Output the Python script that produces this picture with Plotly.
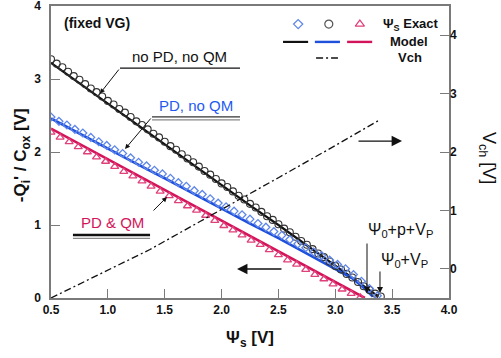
import plotly.graph_objects as go

# ---------------- data ----------------
# Psi_s exact, no PD no QM (circles)
psi_circ = [0.50, 0.55, 0.60, 0.65, 0.70, 0.75, 0.80, 0.85, 0.90, 0.95, 1.00, 1.05, 1.10, 1.15, 1.20,
            1.25, 1.30, 1.35, 1.40, 1.45, 1.50, 1.55, 1.60, 1.65, 1.70, 1.75, 1.80, 1.85, 1.90, 1.95,
            2.00, 2.05, 2.10, 2.15, 2.20, 2.25, 2.30, 2.35, 2.40, 2.45, 2.50, 2.55, 2.60, 2.65, 2.70,
            2.75, 2.80, 2.85, 2.90, 2.95, 3.00, 3.05, 3.10, 3.15, 3.20, 3.25, 3.30, 3.35, 3.40]
q_circ = [3.27, 3.21, 3.16, 3.10, 3.04, 2.99, 2.93, 2.87, 2.82, 2.76, 2.70, 2.65, 2.59, 2.54, 2.48,
          2.42, 2.37, 2.31, 2.25, 2.20, 2.14, 2.08, 2.03, 1.97, 1.91, 1.86, 1.80, 1.74, 1.69, 1.63,
          1.57, 1.52, 1.46, 1.40, 1.35, 1.29, 1.24, 1.18, 1.12, 1.07, 1.01, 0.95, 0.90, 0.84, 0.78,
          0.73, 0.67, 0.61, 0.56, 0.50, 0.44, 0.39, 0.33, 0.28, 0.22, 0.16, 0.11, 0.06, 0.02]

# Psi_s exact, PD no QM (diamonds)
psi_diam = [0.50, 0.57, 0.64, 0.71, 0.78, 0.85, 0.92, 0.99, 1.06, 1.13, 1.20, 1.27, 1.34, 1.41,
            1.48, 1.55, 1.62, 1.69, 1.76, 1.83, 1.90, 1.97, 2.04, 2.11, 2.18, 2.25, 2.32, 2.39,
            2.46, 2.53, 2.60, 2.67, 2.74, 2.81, 2.88, 2.95, 3.02, 3.09, 3.16, 3.23, 3.30, 3.37]
q_diam = [2.48, 2.42, 2.37, 2.31, 2.26, 2.20, 2.14, 2.09, 2.03, 1.98, 1.92, 1.86, 1.81, 1.75,
          1.70, 1.64, 1.58, 1.53, 1.47, 1.42, 1.36, 1.30, 1.25, 1.19, 1.14, 1.08, 1.02, 0.97,
          0.91, 0.86, 0.80, 0.74, 0.69, 0.63, 0.58, 0.52, 0.46, 0.40, 0.32, 0.23, 0.13, 0.03]

# Psi_s exact, PD & QM (triangles)
psi_tri = [0.50, 0.58, 0.66, 0.74, 0.82, 0.90, 0.98, 1.06, 1.14, 1.22, 1.30, 1.38, 1.46, 1.54,
           1.62, 1.70, 1.78, 1.86, 1.94, 2.02, 2.10, 2.18, 2.26, 2.34, 2.42, 2.50, 2.58, 2.66,
           2.74, 2.82, 2.90, 2.98, 3.06, 3.14, 3.22]
q_tri = [2.27, 2.20, 2.14, 2.07, 2.00, 1.93, 1.87, 1.80, 1.73, 1.67, 1.60, 1.53, 1.46, 1.40,
         1.33, 1.26, 1.20, 1.13, 1.06, 0.99, 0.93, 0.86, 0.79, 0.73, 0.66, 0.59, 0.52, 0.46,
         0.39, 0.32, 0.26, 0.19, 0.12, 0.06, 0.01]

# Models
psi_mod_black = [0.50, 0.75, 1.00, 1.25, 1.50, 1.75, 2.00, 2.25, 2.50, 2.75, 3.00, 3.25, 3.38]
q_mod_black = [3.22, 2.94, 2.66, 2.39, 2.11, 1.83, 1.55, 1.27, 1.00, 0.72, 0.45, 0.17, 0.02]

psi_mod_blue = [0.50, 0.75, 1.00, 1.25, 1.50, 1.75, 2.00, 2.25, 2.50, 2.75, 3.00, 3.15, 3.25, 3.33]
q_mod_blue = [2.46, 2.25, 2.05, 1.84, 1.64, 1.43, 1.23, 1.02, 0.82, 0.61, 0.40, 0.27, 0.14, 0.02]

psi_mod_red = [0.50, 0.75, 1.00, 1.25, 1.50, 1.75, 2.00, 2.25, 2.50, 2.75, 3.00, 3.26]
q_mod_red = [2.32, 2.11, 1.90, 1.69, 1.48, 1.27, 1.06, 0.85, 0.64, 0.43, 0.22, 0.00]

# Vch (right axis)
psi_vch = [0.50, 1.00, 1.37, 1.81, 2.19, 2.50, 3.00, 3.39]
vch = [-0.50, -0.02, 0.33, 0.81, 1.22, 1.56, 2.11, 2.55]

x_ticks = [0.5, 1.0, 1.5, 2.0, 2.5, 3.0, 3.5, 4.0]
y_ticks = [0, 1, 2, 3, 4]
y2_ticks = [0, 1, 2, 3, 4]

# ---------------- styles ----------------
BLACK = "#111111"
BLUE = "#1f50dc"
BLUE_M = "#5f86ea"
RED = "#d4145a"
RED_M = "#e0407a"
AXC = "#7a7a7a"
FONT = "Liberation Sans, Arial, sans-serif"

fig = go.Figure()

fig.add_trace(go.Scatter(x=psi_vch, y=vch, mode="lines", yaxis="y2",
                         line=dict(color=BLACK, width=1.3, dash="7px,3px,2px,3px")))
fig.add_trace(go.Scatter(x=psi_mod_black, y=q_mod_black, mode="lines",
                         line=dict(color=BLACK, width=2.2)))
fig.add_trace(go.Scatter(x=psi_mod_blue, y=q_mod_blue, mode="lines",
                         line=dict(color=BLUE, width=2.6)))
fig.add_trace(go.Scatter(x=psi_mod_red, y=q_mod_red, mode="lines",
                         line=dict(color=RED, width=2.6)))
fig.add_trace(go.Scatter(x=psi_circ, y=q_circ, mode="markers",
                         marker=dict(symbol="circle-open", size=7, color="#333333", line=dict(width=1.1))))
fig.add_trace(go.Scatter(x=psi_diam, y=q_diam, mode="markers",
                         marker=dict(symbol="diamond-open", size=6, color=BLUE_M, line=dict(width=1.3))))
fig.add_trace(go.Scatter(x=psi_tri, y=q_tri, mode="markers",
                         marker=dict(symbol="triangle-up-open", size=7, color=RED_M, line=dict(width=1.3))))

# legend keys on a hidden [0,1] axis pair
fig.add_trace(go.Scatter(x=[0.621], y=[0.938], xaxis="x2", yaxis="y3", mode="markers",
                         marker=dict(symbol="diamond-open", size=7, color=BLUE_M, line=dict(width=1.3))))
fig.add_trace(go.Scatter(x=[0.698], y=[0.938], xaxis="x2", yaxis="y3", mode="markers",
                         marker=dict(symbol="circle-open", size=8, color="#555555", line=dict(width=1.2))))
fig.add_trace(go.Scatter(x=[0.776], y=[0.938], xaxis="x2", yaxis="y3", mode="markers",
                         marker=dict(symbol="triangle-up-open", size=8, color=RED_M, line=dict(width=1.2))))
fig.add_trace(go.Scatter(x=[0.583, 0.646], y=[0.877, 0.877], xaxis="x2", yaxis="y3", mode="lines",
                         line=dict(color=BLACK, width=2.2)))
fig.add_trace(go.Scatter(x=[0.663, 0.726], y=[0.877, 0.877], xaxis="x2", yaxis="y3", mode="lines",
                         line=dict(color=BLUE, width=2.4)))
fig.add_trace(go.Scatter(x=[0.744, 0.807], y=[0.877, 0.877], xaxis="x2", yaxis="y3", mode="lines",
                         line=dict(color=RED, width=2.4)))
fig.add_trace(go.Scatter(x=[0.666, 0.721], y=[0.822, 0.822], xaxis="x2", yaxis="y3", mode="lines",
                         line=dict(color=BLACK, width=1.3, dash="7px,3px,2px,3px")))

tickfont = dict(family=FONT, size=12, color="#111111", weight="bold")

fig.update_layout(
    width=501, height=358,
    margin=dict(l=51, r=52, t=6, b=60, autoexpand=False),
    paper_bgcolor="white", plot_bgcolor="white",
    showlegend=False,
    font=dict(family=FONT, color="#111111"),
    xaxis=dict(range=[0.5, 4.0], tickvals=x_ticks, ticktext=[f"{v:.1f}" for v in x_ticks],
               ticks="inside", ticklen=9, tickcolor=AXC, tickwidth=1.3, automargin=False,
               showline=True, linecolor=AXC, linewidth=1.5, mirror=True, ticklabeloverflow="allow",
               showgrid=False, zeroline=False, tickfont=tickfont,
               title=dict(text="Ψ<sub>s</sub> [V]", standoff=15,
                          font=dict(family=FONT, size=17, weight="bold"))),
    yaxis=dict(range=[0, 4], tickvals=y_ticks, ticks="inside", ticklen=9, tickcolor=AXC, tickwidth=1.3,
               showline=True, linecolor=AXC, linewidth=1.5, mirror=True, automargin=False,
               ticklabeloverflow="allow",
               showgrid=False, zeroline=False, tickfont=tickfont, ticklabelstandoff=6),
    yaxis2=dict(range=[-0.5, 4.5], tickvals=y2_ticks, overlaying="y", side="right",
                ticks="inside", ticklen=9, tickcolor=AXC, tickwidth=1.3, automargin=False,
                ticklabeloverflow="allow",
                showgrid=False, zeroline=False, showline=False, tickfont=tickfont),
    yaxis4=dict(range=[0, 4], tickvals=y_ticks, overlaying="y", side="left", automargin=False,
                ticks="outside", ticklen=7, tickcolor=AXC, tickwidth=1.3,
                showticklabels=False, showgrid=False, zeroline=False, showline=False),
    xaxis2=dict(range=[0, 1], overlaying="x", visible=False),
    yaxis3=dict(range=[0, 1], overlaying="y", visible=False, anchor="x2"),
)

ann = []
def txt(x, y, text, size=15, color="#111111", bold=False, xref="x", yref="y", angle=0):
    ann.append(dict(x=x, y=y, xref=xref, yref=yref, text=text, showarrow=False, textangle=angle,
                    font=dict(family=FONT, size=size, color=color, weight="bold" if bold else "normal"),
                    xanchor="center", yanchor="middle"))

def arrow(x0, y0, x1, y1, head=2, size=1.0, width=1.0, standoff=0):
    ann.append(dict(x=x1, y=y1, ax=x0, ay=y0, xref="x", yref="y", axref="x", ayref="y",
                    text="", showarrow=True, arrowhead=head, arrowsize=size, arrowwidth=width,
                    arrowcolor="#111111", standoff=standoff))

# axis titles
txt(-0.072, 0.49, "-Q<sub>i</sub>' / C<sub>ox</sub> [V]", size=17, bold=True, xref="paper", yref="paper", angle=-90)
txt(1.095, 0.48, "V<sub>ch</sub> [V]", size=18, xref="paper", yref="paper", angle=90)

# labels
txt(0.905, 3.77, "(fixed VG)", size=14, bold=True)
txt(1.634, 3.31, "no PD, no QM", size=15)
txt(1.775, 2.64, "PD, no QM", size=15, color="#1e5af0")
txt(1.045, 1.03, "PD &amp; QM", size=15, color=RED)
txt(3.575, 0.93, "Ψ<sub>0</sub>+p+V<sub>P</sub>", size=16)
txt(3.61, 0.52, "Ψ<sub>0</sub>+V<sub>P</sub>", size=16)

# legend labels
txt(0.905, 0.938, "Ψ<sub>S</sub> Exact", size=13, bold=True, xref="paper", yref="paper")
txt(0.899, 0.877, "Model", size=13, bold=True, xref="paper", yref="paper")
txt(0.902, 0.822, "Vch", size=13, bold=True, xref="paper", yref="paper")

# arrows
arrow(1.107, 3.15, 0.93, 2.80, head=2, size=1.0, width=1.0)
arrow(1.388, 2.479, 1.151, 2.04, head=2, size=1.0, width=1.0)
arrow(1.388, 1.178, 1.52, 1.384, head=2, size=1.0, width=1.0)
arrow(3.191, 2.15, 3.587, 2.15, head=2, size=1.6, width=1.3)
arrow(2.54, 0.397, 2.136, 0.397, head=2, size=1.6, width=1.3)
arrow(3.279, 0.767, 3.279, 0.07, head=2, size=1.2, width=1.0)
arrow(3.393, 0.384, 3.393, 0.07, head=2, size=1.2, width=1.0)

fig.update_layout(annotations=ann)

# underline decorations
shapes = [
    dict(type="line", xref="x", yref="y", x0=1.107, x1=2.162, y0=3.15, y1=3.15, line=dict(color="#111111", width=1.3)),
    dict(type="line", xref="x", yref="y", x0=1.388, x1=2.162, y0=2.481, y1=2.481, line=dict(color="#333333", width=1.2)),
    dict(type="line", xref="x", yref="y", x0=1.388, x1=2.162, y0=2.440, y1=2.440, line=dict(color="#888888", width=1.2)),
    dict(type="line", xref="x", yref="y", x0=0.693, x1=1.371, y0=0.863, y1=0.863, line=dict(color="#111111", width=2.6)),
    dict(type="line", xref="x", yref="y", x0=0.693, x1=1.371, y0=0.818, y1=0.818, line=dict(color="#888888", width=1.2)),
]
fig.update_layout(shapes=shapes)

fig.write_html("out.html", config={"displayModeBar": False},
               post_script="document.body.style.margin='0';document.body.style.padding='0';"
                           "document.documentElement.style.overflow='hidden';")
